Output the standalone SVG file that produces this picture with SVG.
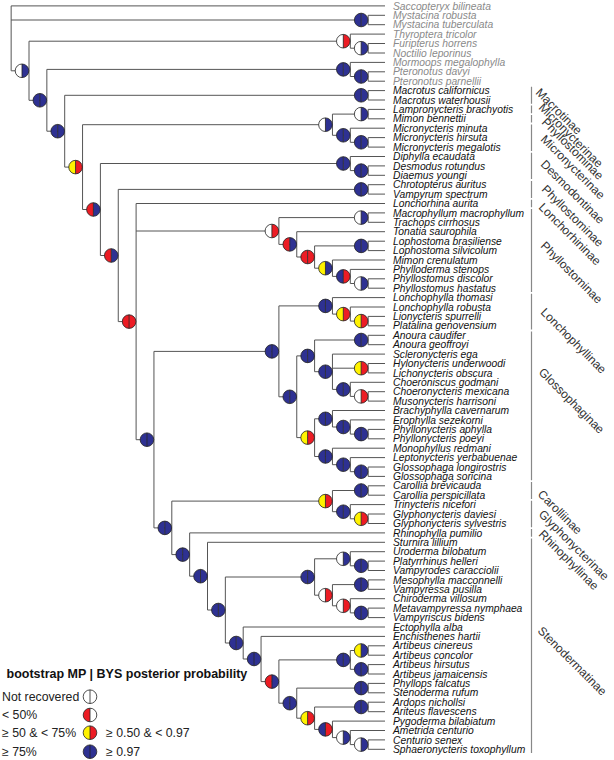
<svg xmlns="http://www.w3.org/2000/svg" width="614" height="760" viewBox="0 0 614 760">
<style>
.ln{stroke:#555;stroke-width:1;fill:none}
.o{stroke:#222;stroke-width:0.8;fill:none}
.b{fill:#2E3192}.r{fill:#EC1C24}.y{fill:#FFF200}.w{fill:#FFFFFF}
.tx{font-family:"Liberation Sans",Arial,sans-serif;font-style:italic;font-size:10.3px;fill:#111}
.og{fill:#8a8a8a}
.sf{font-family:"Liberation Sans",Arial,sans-serif;font-size:12px;fill:#333}
.bar{stroke:#888;stroke-width:1.2}
.lt{font-family:"Liberation Sans",Arial,sans-serif;font-weight:bold;font-size:12.5px;fill:#111}
.lg{font-family:"Liberation Sans",Arial,sans-serif;font-size:12.3px;fill:#222}
</style>
<defs>
<path id="L" d="M0,-6.8A6.8,6.8 0 0 0 0,6.8Z"/>
<path id="R" d="M0,-6.8A6.8,6.8 0 0 1 0,6.8Z"/>
<g id="ring"><circle r="6.8" class="o"/><line x1="0" y1="-6.8" x2="0" y2="6.8" class="o"/></g>
<g id="BB"><use href="#L" class="b"/><use href="#R" class="b"/><use href="#ring"/></g>
<g id="WB"><use href="#L" class="w"/><use href="#R" class="b"/><use href="#ring"/></g>
<g id="WR"><use href="#L" class="w"/><use href="#R" class="r"/><use href="#ring"/></g>
<g id="YR"><use href="#L" class="y"/><use href="#R" class="r"/><use href="#ring"/></g>
<g id="RB"><use href="#L" class="r"/><use href="#R" class="b"/><use href="#ring"/></g>
<g id="RR"><use href="#L" class="r"/><use href="#R" class="r"/><use href="#ring"/></g>
<g id="YB"><use href="#L" class="y"/><use href="#R" class="b"/><use href="#ring"/></g>
<g id="BR"><use href="#L" class="b"/><use href="#R" class="r"/><use href="#ring"/></g>
<g id="WW"><use href="#L" class="w"/><use href="#R" class="w"/><use href="#ring"/></g>
<g id="RW"><use href="#L" class="r"/><use href="#R" class="w"/><use href="#ring"/></g>
</defs>
<rect width="614" height="760" fill="#fff"/>
<g id="connectors" class="ln">
<path d="M11.15,5.9V70.8M368.15,15.3V24.7M29,41.2V100.3M350.3,34.1V48.2M368.15,43.5V53M46.85,69.4V131.2M350.3,62.4V76.5M368.15,71.8V81.2M64.7,95.3V167.1M368.15,90.6V100M82.55,124.7V209.5M332.45,114.1V135.3M368.15,109.4V118.8M350.3,128.2V142.3M368.15,137.6V147.1M100.4,163.5V255.5M350.3,156.5V170.6M368.15,165.9V175.3M118.25,189.4V321.6M368.15,184.7V194.1M136.1,203.5V439.7M278.9,217.6V244.4M368.15,212.9V222.3M296.75,231.7V257M314.6,245.9V268.2M368.15,241.2V250.6M332.45,260V276.4M350.3,269.4V283.5M368.15,278.8V288.2M153.95,351.4V527.9M278.9,305.9V396.8M332.45,297.6V314.1M350.3,307V321.1M368.15,316.4V325.8M296.75,355.9V437.6M314.6,340V371.7M368.15,335.3V344.7M332.45,354.1V389.4M368.15,363.5V372.9M350.3,382.3V396.4M368.15,391.7V401.1M314.6,418.8V456.5M332.45,410.5V427M350.3,419.9V434.1M368.15,429.4V438.8M332.45,448.2V464.7M350.3,457.6V471.7M368.15,467V476.4M171.8,501.1V554.6M332.45,490.5V511.7M368.15,485.8V495.2M350.3,504.6V518.8M368.15,514V523.5M189.65,532.9V576.2M207.5,542.3V610M225.35,577V643M314.6,558.8V595.2M350.3,551.7V565.8M368.15,561.1V570.5M332.45,584.6V605.8M368.15,579.9V589.3M350.3,598.7V612.9M368.15,608.1V617.6M243.2,627V659M261.05,636.4V681.6M278.9,659.9V703.2M350.3,650.5V669.3M368.15,645.8V655.2M368.15,664.6V674M296.75,688.1V718.2M368.15,683.4V692.8M314.6,707V729.4M368.15,702.2V711.7M332.45,721.1V737.6M350.3,730.5V744.6M368.15,739.9V749.3"/>
<path d="M11.15,20H361.15M11.15,70.8H22M29,41.2H343.3M29,100.3H39.85M350.3,48.2H361.15M46.85,69.4H343.3M46.85,131.2H57.7M350.3,76.5H361.15M64.7,95.3H361.15M64.7,167.1H75.55M82.55,124.7H325.45M82.55,209.5H93.4M332.45,114.1H361.15M332.45,135.3H343.3M350.3,142.3H361.15M100.4,163.5H343.3M100.4,255.5H111.25M350.3,170.6H361.15M118.25,189.4H361.15M118.25,321.6H129.1M136.1,231H271.9M136.1,439.7H146.95M278.9,217.6H361.15M278.9,244.4H289.75M296.75,257H307.6M314.6,245.9H361.15M314.6,268.2H325.45M332.45,276.4H343.3M350.3,283.5H361.15M153.95,351.4H271.9M153.95,527.9H164.8M278.9,305.9H325.45M278.9,396.8H289.75M332.45,314.1H343.3M350.3,321.1H361.15M296.75,355.9H307.6M296.75,437.6H307.6M314.6,340H361.15M314.6,371.7H325.45M332.45,368.2H361.15M332.45,389.4H343.3M350.3,396.4H361.15M314.6,418.8H325.45M314.6,456.5H325.45M332.45,427H343.3M350.3,434.1H361.15M332.45,464.7H343.3M350.3,471.7H361.15M171.8,501.1H325.45M171.8,554.6H182.65M332.45,490.5H361.15M332.45,511.7H343.3M350.3,518.8H361.15M189.65,576.2H200.5M207.5,610H218.35M225.35,577H307.6M225.35,643H236.2M314.6,558.8H343.3M314.6,595.2H325.45M350.3,565.8H361.15M332.45,584.6H361.15M332.45,605.8H343.3M350.3,612.9H361.15M243.2,659H254.05M261.05,681.6H271.9M278.9,659.9H343.3M278.9,703.2H289.75M350.3,650.5H361.15M350.3,669.3H361.15M296.75,688.1H361.15M296.75,718.2H307.6M314.6,707H361.15M314.6,729.4H325.45M332.45,737.6H343.3M350.3,744.6H361.15"/>
<path d="M11.15,5.9H385M368.15,15.3H385M368.15,24.7H385M350.3,34.1H385M368.15,43.5H385M368.15,53H385M350.3,62.4H385M368.15,71.8H385M368.15,81.2H385M368.15,90.6H385M368.15,100H385M368.15,109.4H385M368.15,118.8H385M350.3,128.2H385M368.15,137.6H385M368.15,147.1H385M350.3,156.5H385M368.15,165.9H385M368.15,175.3H385M368.15,184.7H385M368.15,194.1H385M136.1,203.5H385M368.15,212.9H385M368.15,222.3H385M296.75,231.7H385M368.15,241.2H385M368.15,250.6H385M332.45,260H385M350.3,269.4H385M368.15,278.8H385M368.15,288.2H385M332.45,297.6H385M350.3,307H385M368.15,316.4H385M368.15,325.8H385M368.15,335.3H385M368.15,344.7H385M332.45,354.1H385M368.15,363.5H385M368.15,372.9H385M350.3,382.3H385M368.15,391.7H385M368.15,401.1H385M332.45,410.5H385M350.3,419.9H385M368.15,429.4H385M368.15,438.8H385M332.45,448.2H385M350.3,457.6H385M368.15,467H385M368.15,476.4H385M368.15,485.8H385M368.15,495.2H385M350.3,504.6H385M368.15,514H385M368.15,523.5H385M189.65,532.9H385M207.5,542.3H385M350.3,551.7H385M368.15,561.1H385M368.15,570.5H385M368.15,579.9H385M368.15,589.3H385M350.3,598.7H385M368.15,608.1H385M368.15,617.6H385M243.2,627H385M261.05,636.4H385M368.15,645.8H385M368.15,655.2H385M368.15,664.6H385M368.15,674H385M368.15,683.4H385M368.15,692.8H385M368.15,702.2H385M368.15,711.7H385M332.45,721.1H385M350.3,730.5H385M368.15,739.9H385M368.15,749.3H385"/>
</g>
<g id="nodes">
<g id="n-Mys"><use href="#BB" x="361.15" y="20"/></g>
<g id="n-N1"><use href="#WB" x="22" y="70.8"/></g>
<g id="n-Thy"><use href="#WR" x="343.3" y="41.2"/></g>
<g id="n-FN"><use href="#WB" x="361.15" y="48.2"/></g>
<g id="n-N2"><use href="#BB" x="39.85" y="100.3"/></g>
<g id="n-Mor"><use href="#BB" x="343.3" y="69.4"/></g>
<g id="n-Pter"><use href="#BB" x="361.15" y="76.5"/></g>
<g id="n-N3"><use href="#BB" x="57.7" y="131.2"/></g>
<g id="n-Mac"><use href="#BB" x="361.15" y="95.3"/></g>
<g id="n-N4"><use href="#YR" x="75.55" y="167.1"/></g>
<g id="n-MicGrp"><use href="#WB" x="325.45" y="124.7"/></g>
<g id="n-LM"><use href="#WB" x="361.15" y="114.1"/></g>
<g id="n-Mic"><use href="#BB" x="343.3" y="135.3"/></g>
<g id="n-MicHM"><use href="#BB" x="361.15" y="142.3"/></g>
<g id="n-N5"><use href="#RB" x="93.4" y="209.5"/></g>
<g id="n-Des"><use href="#BB" x="343.3" y="163.5"/></g>
<g id="n-DD"><use href="#BB" x="361.15" y="170.6"/></g>
<g id="n-N6"><use href="#RB" x="111.25" y="255.5"/></g>
<g id="n-CV"><use href="#BB" x="361.15" y="189.4"/></g>
<g id="n-N7"><use href="#RR" x="129.1" y="321.6"/></g>
<g id="n-A"><use href="#WR" x="271.9" y="231"/></g>
<g id="n-MT"><use href="#WB" x="361.15" y="217.6"/></g>
<g id="n-B"><use href="#RB" x="289.75" y="244.4"/></g>
<g id="n-C"><use href="#RR" x="307.6" y="257"/></g>
<g id="n-Loph"><use href="#BB" x="361.15" y="245.9"/></g>
<g id="n-D"><use href="#YB" x="325.45" y="268.2"/></g>
<g id="n-E"><use href="#BR" x="343.3" y="276.4"/></g>
<g id="n-Phy"><use href="#WB" x="361.15" y="283.5"/></g>
<g id="n-N8"><use href="#BB" x="146.95" y="439.7"/></g>
<g id="n-G"><use href="#BB" x="271.9" y="351.4"/></g>
<g id="n-Lonch"><use href="#BB" x="325.45" y="305.9"/></g>
<g id="n-Lrob"><use href="#YR" x="343.3" y="314.1"/></g>
<g id="n-LP"><use href="#YR" x="361.15" y="321.1"/></g>
<g id="n-H"><use href="#BB" x="289.75" y="396.8"/></g>
<g id="n-GlA"><use href="#BB" x="307.6" y="355.9"/></g>
<g id="n-Anoura"><use href="#BB" x="361.15" y="340"/></g>
<g id="n-Tri"><use href="#BB" x="325.45" y="371.7"/></g>
<g id="n-HL"><use href="#YR" x="361.15" y="368.2"/></g>
<g id="n-Choer"><use href="#BB" x="343.3" y="389.4"/></g>
<g id="n-CM"><use href="#WR" x="361.15" y="396.4"/></g>
<g id="n-GlB"><use href="#YR" x="307.6" y="437.6"/></g>
<g id="n-Bra"><use href="#BB" x="325.45" y="418.8"/></g>
<g id="n-Ero"><use href="#BB" x="343.3" y="427"/></g>
<g id="n-Phn"><use href="#BB" x="361.15" y="434.1"/></g>
<g id="n-Mon"><use href="#BB" x="325.45" y="456.5"/></g>
<g id="n-Lep"><use href="#BB" x="343.3" y="464.7"/></g>
<g id="n-Glo"><use href="#BB" x="361.15" y="471.7"/></g>
<g id="n-N9"><use href="#BB" x="164.8" y="527.9"/></g>
<g id="n-CG"><use href="#YR" x="325.45" y="501.1"/></g>
<g id="n-Car"><use href="#BB" x="361.15" y="490.5"/></g>
<g id="n-Trin"><use href="#BB" x="343.3" y="511.7"/></g>
<g id="n-Gly"><use href="#YR" x="361.15" y="518.8"/></g>
<g id="n-N10"><use href="#BB" x="182.65" y="554.6"/></g>
<g id="n-N11"><use href="#BB" x="200.5" y="576.2"/></g>
<g id="n-N12"><use href="#BB" x="218.35" y="610"/></g>
<g id="n-Vamp"><use href="#BB" x="307.6" y="577"/></g>
<g id="n-Uro"><use href="#WB" x="343.3" y="558.8"/></g>
<g id="n-PV"><use href="#BB" x="361.15" y="565.8"/></g>
<g id="n-MC"><use href="#WR" x="325.45" y="595.2"/></g>
<g id="n-MV"><use href="#BB" x="361.15" y="584.6"/></g>
<g id="n-Chi"><use href="#WR" x="343.3" y="605.8"/></g>
<g id="n-MVb"><use href="#BB" x="361.15" y="612.9"/></g>
<g id="n-N13"><use href="#BB" x="236.2" y="643"/></g>
<g id="n-N14"><use href="#BB" x="254.05" y="659"/></g>
<g id="n-N15"><use href="#RB" x="271.9" y="681.6"/></g>
<g id="n-N16"><use href="#BB" x="289.75" y="703.2"/></g>
<g id="n-Art"><use href="#BB" x="343.3" y="659.9"/></g>
<g id="n-AC"><use href="#YB" x="361.15" y="650.5"/></g>
<g id="n-AH"><use href="#BB" x="361.15" y="669.3"/></g>
<g id="n-PS"><use href="#BB" x="361.15" y="688.1"/></g>
<g id="n-AA"><use href="#BB" x="361.15" y="707"/></g>
<g id="n-Ard"><use href="#YR" x="307.6" y="718.2"/></g>
<g id="n-Pyg"><use href="#BR" x="325.45" y="729.4"/></g>
<g id="n-Ame"><use href="#WB" x="343.3" y="737.6"/></g>
<g id="n-CS"><use href="#WB" x="361.15" y="744.6"/></g>
</g>
<g id="taxa" class="tx">
<text class="og" x="393" y="9.5">Saccopteryx bilineata</text>
<text class="og" x="393" y="18.9">Mystacina robusta</text>
<text class="og" x="393" y="28.3">Mystacina tuberculata</text>
<text class="og" x="393" y="37.7">Thyroptera tricolor</text>
<text class="og" x="393" y="47.1">Furipterus horrens</text>
<text class="og" x="393" y="56.6">Noctilio leporinus</text>
<text class="og" x="393" y="66">Mormoops megalophylla</text>
<text class="og" x="393" y="75.4">Pteronotus davyi</text>
<text class="og" x="393" y="84.8">Pteronotus parnellii</text>
<text x="393" y="94.2">Macrotus californicus</text>
<text x="393" y="103.6">Macrotus waterhousii</text>
<text x="393" y="113">Lampronycteris brachyotis</text>
<text x="393" y="122.4">Mimon bennettii</text>
<text x="393" y="131.8">Micronycteris minuta</text>
<text x="393" y="141.2">Micronycteris hirsuta</text>
<text x="393" y="150.7">Micronycteris megalotis</text>
<text x="393" y="160.1">Diphylla ecaudata</text>
<text x="393" y="169.5">Desmodus rotundus</text>
<text x="393" y="178.9">Diaemus youngi</text>
<text x="393" y="188.3">Chrotopterus auritus</text>
<text x="393" y="197.7">Vampyrum spectrum</text>
<text x="393" y="207.1">Lonchorhina aurita</text>
<text x="393" y="216.5">Macrophyllum macrophyllum</text>
<text x="393" y="225.9">Trachops cirrhosus</text>
<text x="393" y="235.3">Tonatia saurophila</text>
<text x="393" y="244.8">Lophostoma brasiliense</text>
<text x="393" y="254.2">Lophostoma silvicolum</text>
<text x="393" y="263.6">Mimon crenulatum</text>
<text x="393" y="273">Phylloderma stenops</text>
<text x="393" y="282.4">Phyllostomus discolor</text>
<text x="393" y="291.8">Phyllostomus hastatus</text>
<text x="393" y="301.2">Lonchophylla thomasi</text>
<text x="393" y="310.6">Lonchophylla robusta</text>
<text x="393" y="320">Lionycteris spurrelli</text>
<text x="393" y="329.4">Platalina genovensium</text>
<text x="393" y="338.9">Anoura caudifer</text>
<text x="393" y="348.3">Anoura geoffroyi</text>
<text x="393" y="357.7">Scleronycteris ega</text>
<text x="393" y="367.1">Hylonycteris underwoodi</text>
<text x="393" y="376.5">Lichonycteris obscura</text>
<text x="393" y="385.9">Choeroniscus godmani</text>
<text x="393" y="395.3">Choeronycteris mexicana</text>
<text x="393" y="404.7">Musonycteris harrisoni</text>
<text x="393" y="414.1">Brachyphylla cavernarum</text>
<text x="393" y="423.5">Erophylla sezekorni</text>
<text x="393" y="433">Phyllonycteris aphylla</text>
<text x="393" y="442.4">Phyllonycteris poeyi</text>
<text x="393" y="451.8">Monophyllus redmani</text>
<text x="393" y="461.2">Leptonycteris yerbabuenae</text>
<text x="393" y="470.6">Glossophaga longirostris</text>
<text x="393" y="480">Glossophaga soricina</text>
<text x="393" y="489.4">Carollia brevicauda</text>
<text x="393" y="498.8">Carollia perspicillata</text>
<text x="393" y="508.2">Trinycteris nicefori</text>
<text x="393" y="517.6">Glyphonycteris daviesi</text>
<text x="393" y="527.1">Glyphonycteris sylvestris</text>
<text x="393" y="536.5">Rhinophylla pumilio</text>
<text x="393" y="545.9">Sturnira lillium</text>
<text x="393" y="555.3">Uroderma bilobatum</text>
<text x="393" y="564.7">Platyrrhinus helleri</text>
<text x="393" y="574.1">Vampyrodes caracciolii</text>
<text x="393" y="583.5">Mesophylla macconnelli</text>
<text x="393" y="592.9">Vampyressa pusilla</text>
<text x="393" y="602.3">Chiroderma villosum</text>
<text x="393" y="611.7">Metavampyressa nymphaea</text>
<text x="393" y="621.2">Vampyriscus bidens</text>
<text x="393" y="630.6">Ectophylla alba</text>
<text x="393" y="640">Enchisthenes hartii</text>
<text x="393" y="649.4">Artibeus cinereus</text>
<text x="393" y="658.8">Artibeus concolor</text>
<text x="393" y="668.2">Artibeus hirsutus</text>
<text x="393" y="677.6">Artibeus jamaicensis</text>
<text x="393" y="687">Phyllops falcatus</text>
<text x="393" y="696.4">Stenoderma rufum</text>
<text x="393" y="705.8">Ardops nichollsi</text>
<text x="393" y="715.3">Ariteus flavescens</text>
<text x="393" y="724.7">Pygoderma bilabiatum</text>
<text x="393" y="734.1">Ametrida centurio</text>
<text x="393" y="743.5">Centurio senex</text>
<text x="393" y="752.9">Sphaeronycteris toxophyllum</text>
</g>
<g id="subfamily-bars" class="bar">
<path d="M531.5,86.8V103.8M531.5,105.6V113.2M531.5,115V122.6M531.5,124.4V150.9M531.5,152.7V179.1M531.5,180.9V197.9M531.5,199.7V207.3M531.5,209.1V292M531.5,293.8V329.6M531.5,331.5V480.2M531.5,482V499M531.5,500.8V527.3M531.5,529.1V536.7M531.5,538.5V753.1"/>
</g>
<g id="subfamily-labels" class="sf">
<text transform="translate(535,93.3) rotate(45)">Macrotinae</text>
<text transform="translate(538,108.3) rotate(45)">Micronycterinae</text>
<text transform="translate(541,123) rotate(45)">Phyllostominae</text>
<text transform="translate(540,140) rotate(45)">Micronycterinae</text>
<text transform="translate(540,165) rotate(45)">Desmodontinae</text>
<text transform="translate(541,190) rotate(45)">Phyllostominae</text>
<text transform="translate(538,208) rotate(45)">Lonchorhininae</text>
<text transform="translate(540,246.6) rotate(45)">Phyllostominae</text>
<text transform="translate(540,313) rotate(45)">Lonchophyllinae</text>
<text transform="translate(538,373) rotate(45)">Glossophaginae</text>
<text transform="translate(537,495) rotate(45)">Carolliinae</text>
<text transform="translate(538,515) rotate(45)">Glyphonycterinae</text>
<text transform="translate(538,535) rotate(45)">Rhinophyllinae</text>
<text transform="translate(537,631.6) rotate(45)">Stenodermatinae</text>
</g>
<g id="legend">
<text class="lt" x="6.5" y="677.5">bootstrap MP | BYS posterior probability</text>
<text class="lg" x="2" y="701">Not recovered</text>
<use href="#WW" x="90" y="696.7"/>
<text class="lg" x="2" y="719.3">&lt; 50%</text>
<use href="#RW" x="90" y="715"/>
<text class="lg" x="2" y="737">≥ 50 &amp; &lt; 75%</text>
<use href="#YR" x="90" y="732.7"/>
<text class="lg" x="106" y="737">≥ 0.50 &amp; &lt; 0.97</text>
<text class="lg" x="2" y="756">≥ 75%</text>
<use href="#BB" x="90" y="751.7"/>
<text class="lg" x="106" y="756">≥ 0.97</text>
</g>
</svg>
